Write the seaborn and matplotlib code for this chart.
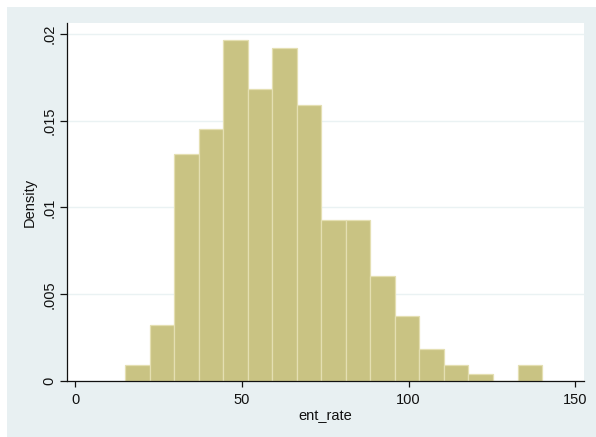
import numpy as np
import pandas as pd
import seaborn as sns
import matplotlib
matplotlib.use("Agg")
import matplotlib.pyplot as plt
from matplotlib.patches import Rectangle

# Histogram of ent_rate: bin layout and bar heights (density scale)
bin_start = 14.9
bin_width = 7.36
density = [0.00094, 0.00325, 0.01311, 0.01451, 0.01966, 0.01685, 0.01922,
           0.01589, 0.00930, 0.00930, 0.00603, 0.00376, 0.00186, 0.00092,
           0.00042, 0.0, 0.00092]

y_ticks = [0, 0.005, 0.01, 0.015, 0.02]
y_tick_labels = ["0", ".005", ".01", ".015", ".02"]
x_ticks = [0, 50, 100, 150]
x_tick_labels = ["0", "50", "100", "150"]

n_bins = len(density)
edges = bin_start + bin_width * np.arange(n_bins + 1)
centers = (edges[:-1] + edges[1:]) / 2
df = pd.DataFrame({"ent_rate": centers, "density": density})

sns.set_style("white")
plt.rcParams["font.family"] = ["Liberation Sans", "DejaVu Sans"]

W, H = 596, 437
fig = plt.figure(figsize=(W / 100, H / 100), dpi=100, facecolor="white")

# graph region background
fig.patches.append(Rectangle((7 / W, 0), 1 - 7 / W, (H - 7) / H,
                             transform=fig.transFigure, facecolor="#E8F0F2",
                             edgecolor="none", zorder=-10))

ax = fig.add_axes([67 / W, (H - 381) / H, (584 - 67) / W, (381 - 23) / H])
ax.set_facecolor("white")

sns.histplot(data=df, x="ent_rate", weights="density", bins=n_bins,
             binrange=(float(edges[0]), float(edges[-1])),
             stat="count", element="bars", color="#C9C383",
             edgecolor="#E4DFB2", linewidth=0.9, alpha=1.0, ax=ax)

ax.set_xlim(-2.5, 152.6)
ax.set_ylim(0, 0.020634)

ax.set_yticks(y_ticks)
ax.set_yticklabels(y_tick_labels, rotation=90, va="center")
ax.set_xticks(x_ticks)
ax.set_xticklabels(x_tick_labels)

ax.yaxis.grid(True, color="#EAF2F3", linewidth=1.0)
ax.xaxis.grid(False)
ax.set_axisbelow(True)

for side in ["top", "right"]:
    ax.spines[side].set_visible(False)
for side in ["left", "bottom"]:
    ax.spines[side].set_color("#111111")
    ax.spines[side].set_linewidth(0.9)
    ax.spines[side].set_zorder(5)

ax.tick_params(axis="y", direction="out", length=5.3, width=0.9,
               color="#111111", pad=2.2, labelsize=10.5, labelcolor="#111111",
               left=True)
ax.tick_params(axis="x", direction="out", length=4.0, width=0.9,
               color="#111111", pad=5.0, labelsize=10.5, labelcolor="#111111",
               bottom=True)

ax.set_xlabel("ent_rate", fontsize=10.5, color="#111111", labelpad=1)
ax.set_ylabel("Density", fontsize=10.5, color="#111111", labelpad=4)

fig.savefig("out.png", dpi=100, facecolor=fig.get_facecolor())
